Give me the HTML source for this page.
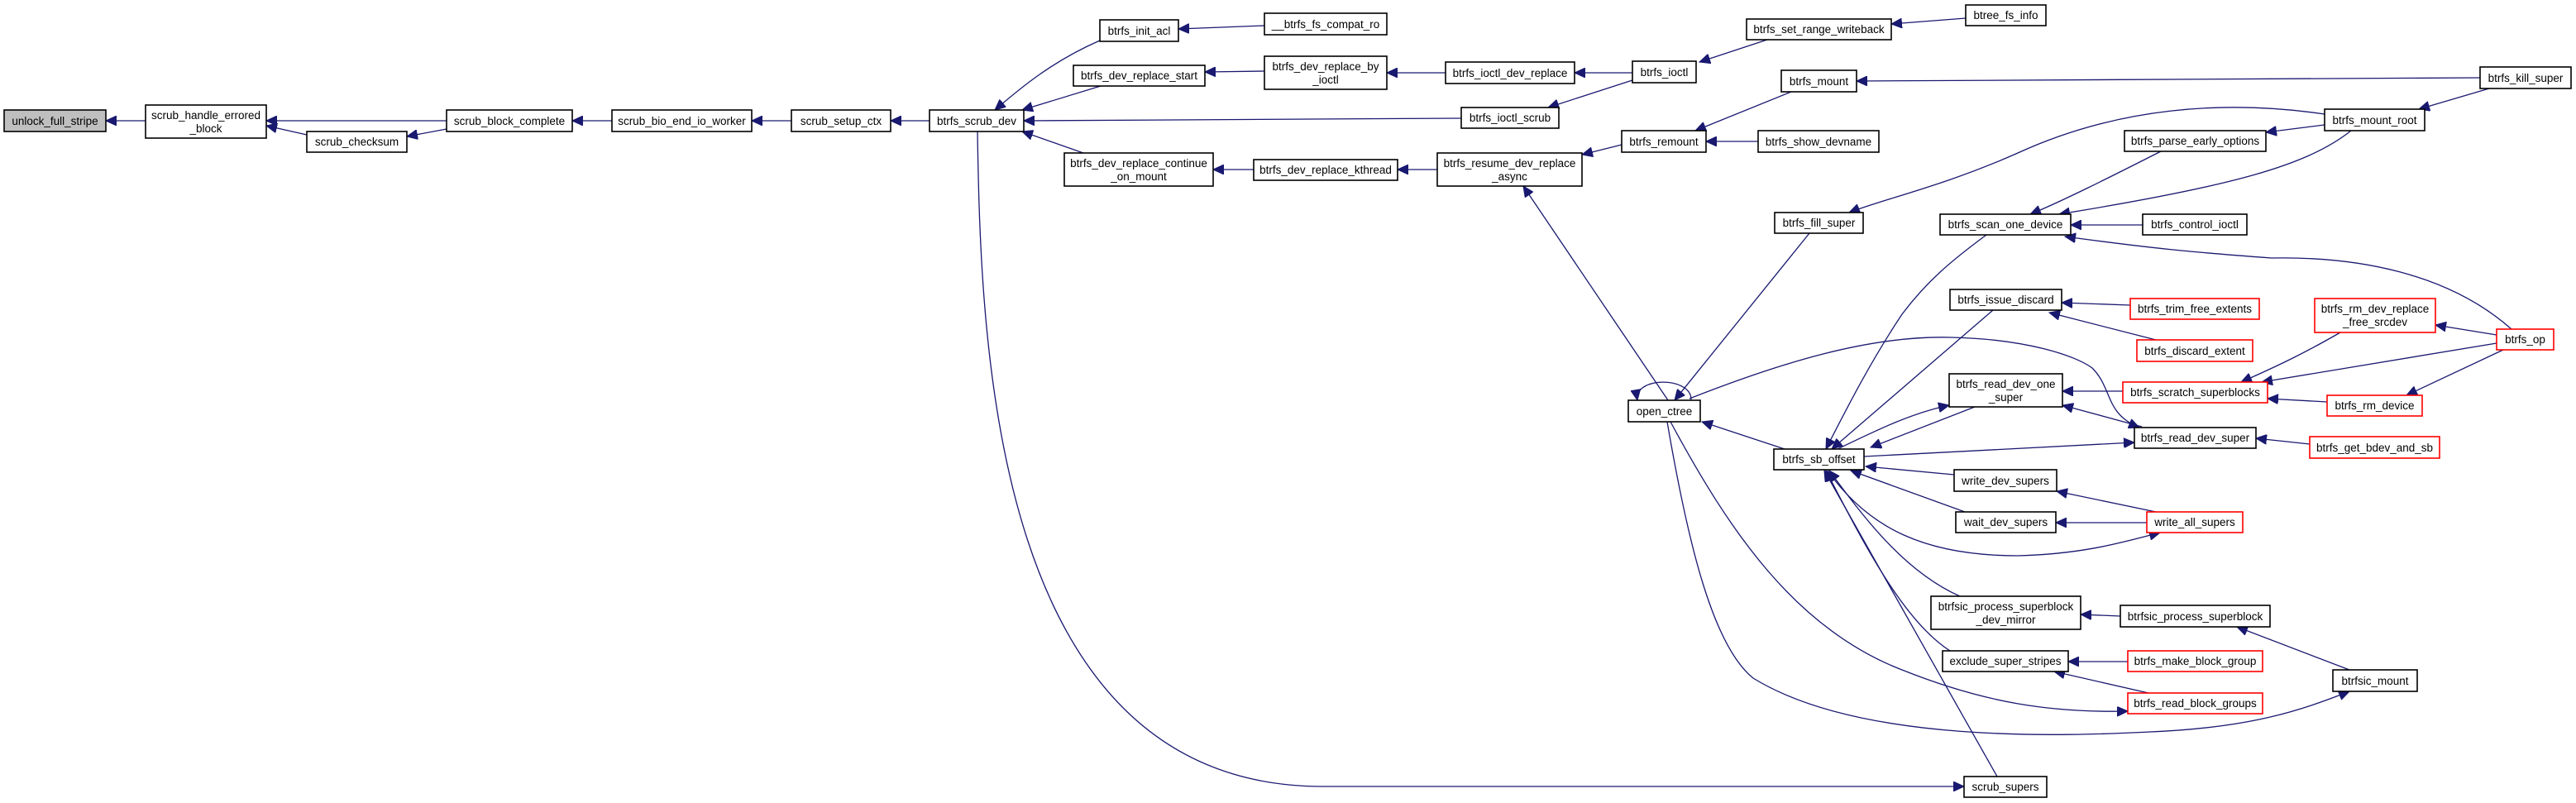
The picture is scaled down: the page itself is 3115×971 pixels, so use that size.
<!DOCTYPE html>
<html><head><meta charset="utf-8"><style>
html,body{margin:0;padding:0;background:#fff;}
svg{display:block;}
text{font-family:"Liberation Sans",sans-serif;font-size:13.5px;fill:#000;}
.e{fill:none;stroke:#191970;stroke-width:1.3;}
.n{fill:#fff;stroke:#000;stroke-width:1.6;}
.r{fill:#fff;stroke:#ff0000;stroke-width:1.6;}
</style></head><body>
<svg width="3115" height="971" viewBox="0 0 3115 971" xmlns="http://www.w3.org/2000/svg">
<defs>
<marker id="a" markerUnits="userSpaceOnUse" markerWidth="14" markerHeight="12" refX="13" refY="6" orient="auto">
<path d="M0,0 L13,6 L0,12 Z" fill="#191970" stroke="#191970"/>
</marker>
</defs>
<g class="e" marker-end="url(#a)">
<path d="M176,146 L128,146"/>
<path d="M540,146 L322,146"/>
<path d="M371,163 L322,152"/>
<path d="M540,156 L492,165"/>
<path d="M740,146 L692,146"/>
<path d="M957,146 L909,146"/>
<path d="M1124,146 L1077,146"/>
<path d="M1330,49 C1270,75 1230,110 1203,133"/>
<path d="M1331,104 L1236,133"/>
<path d="M1767,143 L1238,146"/>
<path d="M1310,185 L1236,159"/>
<path d="M1529,31 L1425,35"/>
<path d="M1529,86 L1457,87"/>
<path d="M1748,88 L1677,88"/>
<path d="M1974,88 L1904,88"/>
<path d="M1974,97 L1872,130"/>
<path d="M1516,205 L1467,205"/>
<path d="M1738,205 L1690,205"/>
<path d="M2137,48 L2055,75"/>
<path d="M2377,22 L2287,29"/>
<path d="M1961,175 L1913,187"/>
<path d="M2017,484 L1842,225"/>
<path d="M2166,111 L2050,158"/>
<path d="M2126,171 L2063,171"/>
<path d="M2999,94 L2245,98"/>
<path d="M3010,107 L2925,132"/>
<path d="M2811,151 L2740,160"/>
<path d="M2811,138 C2690,120 2560,130 2440,185 C2350,225 2280,240 2236,257"/>
<path d="M2613,183 C2550,215 2490,245 2455,259"/>
<path d="M2843,158 C2790,200 2700,225 2490,259"/>
<path d="M2591,272 L2504,272"/>
<path d="M3037,398 C2960,330 2850,310 2747,312 C2650,305 2600,300 2497,286"/>
<path d="M2188,282 L2025,484"/>
<path d="M2158,543 L2058,510"/>
<path d="M2045,483 C2045,455 1975,455 1980,484"/>
<path d="M2043,482 C2150,440 2260,405 2360,408 C2450,410 2510,430 2530,445 C2555,470 2545,500 2587,517"/>
<path d="M2020,510 C2090,640 2170,760 2300,810 C2400,850 2480,862 2573,860"/>
<path d="M2016,510 C2040,650 2070,780 2120,820 C2250,900 2500,890 2600,885 C2720,880 2780,860 2841,836"/>
<path d="M2402,284 C2360,315 2330,340 2300,380 C2260,440 2230,500 2208,543"/>
<path d="M2410,375 L2215,543"/>
<path d="M2222,543 C2270,520 2310,500 2357,490"/>
<path d="M2388,492 L2262,541"/>
<path d="M2254,552 L2581,535"/>
<path d="M2363,574 L2256,564"/>
<path d="M2376,619 L2238,569"/>
<path d="M2210,569 C2260,640 2330,672 2440,672 C2520,670 2570,655 2612,644"/>
<path d="M2370,721 C2300,690 2250,620 2212,569"/>
<path d="M2358,787 C2300,750 2250,650 2208,569"/>
<path d="M2415,939 L2206,569"/>
<path d="M2607,619 L2487,594"/>
<path d="M2596,632 L2486,632"/>
<path d="M2564,745 L2516,743"/>
<path d="M2841,810 L2705,758"/>
<path d="M2573,800 L2501,800"/>
<path d="M2598,838 L2484,812"/>
<path d="M2576,369 L2493,366"/>
<path d="M2607,411 L2478,378"/>
<path d="M2567,473 L2494,473"/>
<path d="M2590,516 L2494,490"/>
<path d="M2793,537 L2728,530"/>
<path d="M2830,402 C2790,425 2760,440 2710,462"/>
<path d="M3019,415 L2735,462"/>
<path d="M2814,486 L2742,482"/>
<path d="M3019,405 L2945,393"/>
<path d="M3027,423 L2910,478"/>
<path d="M1182,159 C1186,420 1200,951 1600,951 L2375,951"/>
</g>
<g>
<rect x="5" y="133" width="123" height="26" fill="#bfbfbf" stroke="#000" stroke-width="1.6"/>
<text x="66.5" y="151" text-anchor="middle">unlock_full_stripe</text>
</g>
<g text-anchor="middle">
<rect class="n" x="176" y="127" width="146" height="40"/><text x="249" y="144">scrub_handle_errored</text><text x="249" y="160">_block</text>
<rect class="n" x="371" y="159" width="121" height="25"/><text x="431.5" y="176">scrub_checksum</text>
<rect class="n" x="540" y="133" width="152" height="26"/><text x="616" y="151">scrub_block_complete</text>
<rect class="n" x="740" y="133" width="169" height="26"/><text x="824.5" y="151">scrub_bio_end_io_worker</text>
<rect class="n" x="957" y="133" width="120" height="26"/><text x="1017" y="151">scrub_setup_ctx</text>
<rect class="n" x="1124" y="133" width="114" height="26"/><text x="1181" y="151">btrfs_scrub_dev</text>
<rect class="n" x="1330" y="24" width="95" height="26"/><text x="1377.5" y="42">btrfs_init_acl</text>
<rect class="n" x="1529" y="16" width="148" height="26"/><text x="1603" y="34">__btrfs_fs_compat_ro</text>
<rect class="n" x="1298" y="79" width="159" height="25"/><text x="1377.5" y="96">btrfs_dev_replace_start</text>
<rect class="n" x="1529" y="68" width="148" height="40"/><text x="1603" y="85">btrfs_dev_replace_by</text><text x="1603" y="101">_ioctl</text>
<rect class="n" x="1748" y="75" width="156" height="26"/><text x="1826" y="93">btrfs_ioctl_dev_replace</text>
<rect class="n" x="1974" y="74" width="77" height="26"/><text x="2012.5" y="92">btrfs_ioctl</text>
<rect class="n" x="1767" y="130" width="118" height="25"/><text x="1826" y="147">btrfs_ioctl_scrub</text>
<rect class="n" x="1287" y="185" width="180" height="40"/><text x="1377" y="202">btrfs_dev_replace_continue</text><text x="1377" y="218">_on_mount</text>
<rect class="n" x="1516" y="193" width="174" height="25"/><text x="1603" y="210">btrfs_dev_replace_kthread</text>
<rect class="n" x="1738" y="185" width="175" height="40"/><text x="1825.5" y="202">btrfs_resume_dev_replace</text><text x="1825.5" y="218">_async</text>
<rect class="n" x="1961" y="158" width="102" height="26"/><text x="2012" y="176">btrfs_remount</text>
<rect class="n" x="2377" y="6" width="97" height="25"/><text x="2425.5" y="23">btree_fs_info</text>
<rect class="n" x="2112" y="23" width="175" height="25"/><text x="2199.5" y="40">btrfs_set_range_writeback</text>
<rect class="n" x="2154" y="85" width="91" height="26"/><text x="2199.5" y="103">btrfs_mount</text>
<rect class="n" x="2999" y="81" width="110" height="26"/><text x="3054" y="99">btrfs_kill_super</text>
<rect class="n" x="2811" y="132" width="121" height="26"/><text x="2871.5" y="150">btrfs_mount_root</text>
<rect class="n" x="2569" y="158" width="171" height="25"/><text x="2654.5" y="175">btrfs_parse_early_options</text>
<rect class="n" x="2126" y="158" width="146" height="26"/><text x="2199" y="176">btrfs_show_devname</text>
<rect class="n" x="2146" y="257" width="107" height="25"/><text x="2199.5" y="274">btrfs_fill_super</text>
<rect class="n" x="2346" y="259" width="158" height="25"/><text x="2425" y="276">btrfs_scan_one_device</text>
<rect class="n" x="2591" y="259" width="126" height="25"/><text x="2654" y="276">btrfs_control_ioctl</text>
<rect class="n" x="2358" y="350" width="135" height="25"/><text x="2425.5" y="367">btrfs_issue_discard</text>
<rect class="r" x="2576" y="361" width="156" height="25"/><text x="2654" y="378">btrfs_trim_free_extents</text>
<rect class="r" x="2584" y="411" width="140" height="26"/><text x="2654" y="429">btrfs_discard_extent</text>
<rect class="r" x="2799" y="361" width="146" height="41"/><text x="2872" y="378">btrfs_rm_dev_replace</text><text x="2872" y="394">_free_srcdev</text>
<rect class="r" x="3019" y="398" width="69" height="25"/><text x="3053.5" y="415">btrfs_op</text>
<rect class="n" x="1969" y="484" width="87" height="26"/><text x="2012.5" y="502">open_ctree</text>
<rect class="n" x="2357" y="452" width="137" height="40"/><text x="2425.5" y="469">btrfs_read_dev_one</text><text x="2425.5" y="485">_super</text>
<rect class="r" x="2567" y="462" width="175" height="25"/><text x="2654.5" y="479">btrfs_scratch_superblocks</text>
<rect class="r" x="2814" y="478" width="115" height="25"/><text x="2871.5" y="495">btrfs_rm_device</text>
<rect class="n" x="2581" y="517" width="147" height="25"/><text x="2654.5" y="534">btrfs_read_dev_super</text>
<rect class="r" x="2793" y="528" width="157" height="26"/><text x="2871.5" y="546">btrfs_get_bdev_and_sb</text>
<rect class="n" x="2145" y="543" width="109" height="25"/><text x="2199.5" y="560">btrfs_sb_offset</text>
<rect class="n" x="2363" y="568" width="124" height="26"/><text x="2425" y="586">write_dev_supers</text>
<rect class="n" x="2365" y="619" width="121" height="25"/><text x="2425.5" y="636">wait_dev_supers</text>
<rect class="r" x="2596" y="619" width="116" height="25"/><text x="2654" y="636">write_all_supers</text>
<rect class="n" x="2335" y="721" width="181" height="40"/><text x="2425.5" y="738">btrfsic_process_superblock</text><text x="2425.5" y="754">_dev_mirror</text>
<rect class="n" x="2564" y="732" width="181" height="26"/><text x="2654.5" y="750">btrfsic_process_superblock</text>
<rect class="n" x="2349" y="787" width="152" height="25"/><text x="2425" y="804">exclude_super_stripes</text>
<rect class="r" x="2573" y="787" width="163" height="25"/><text x="2654.5" y="804">btrfs_make_block_group</text>
<rect class="r" x="2573" y="838" width="163" height="25"/><text x="2654.5" y="855">btrfs_read_block_groups</text>
<rect class="n" x="2821" y="810" width="102" height="26"/><text x="2872" y="828">btrfsic_mount</text>
<rect class="n" x="2375" y="939" width="100" height="25"/><text x="2425" y="956">scrub_supers</text>
</g>
</svg>
</body></html>
